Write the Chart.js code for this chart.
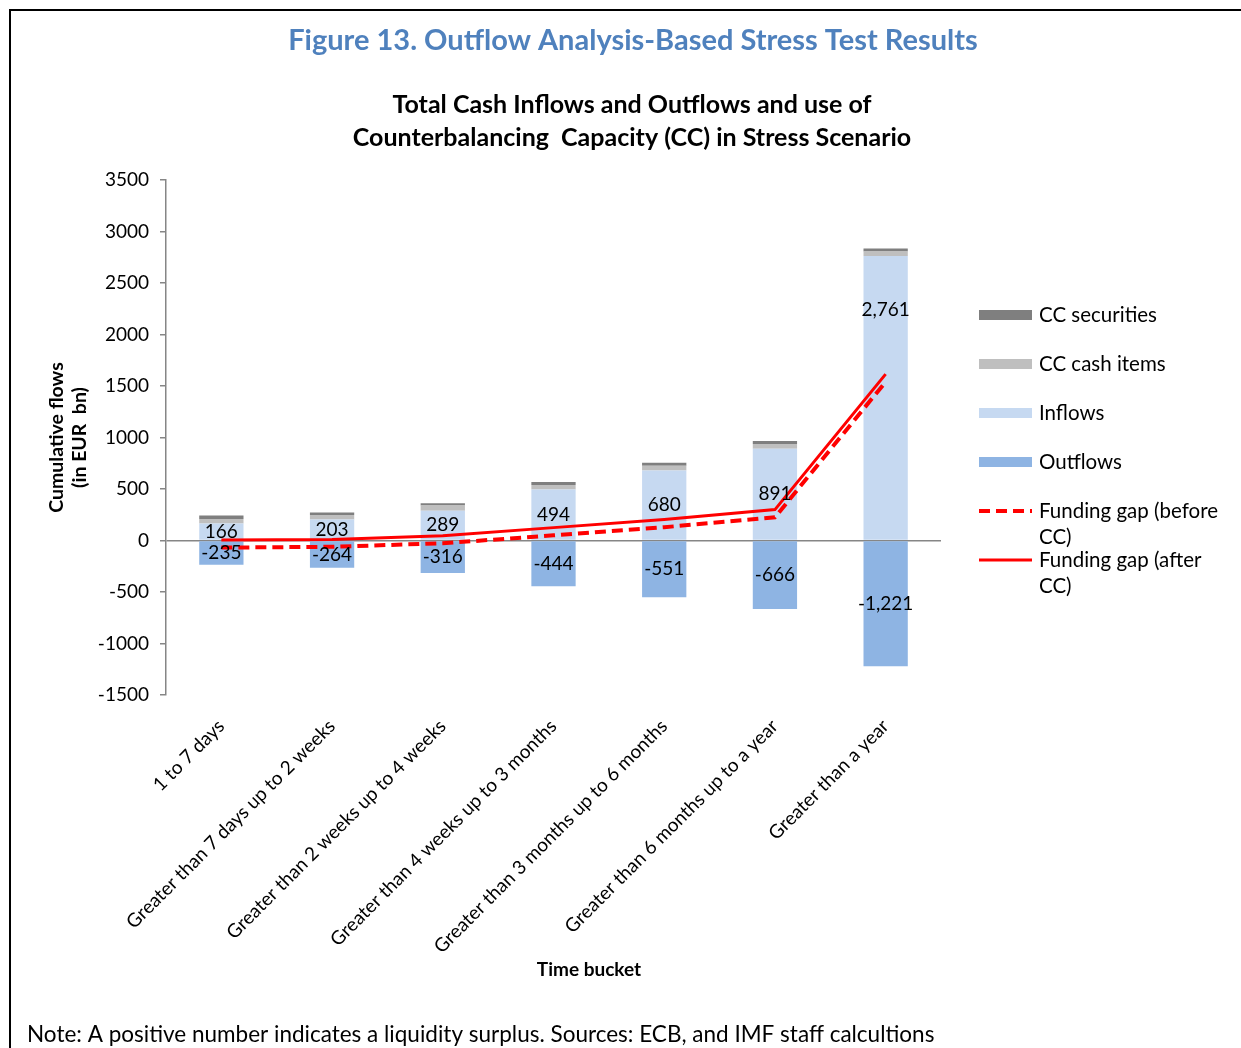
<!DOCTYPE html>
<html>
<head>
<meta charset="utf-8">
<script src="https://cdn.jsdelivr.net/npm/chart.js@4.4.0/dist/chart.umd.min.js"></script>
<style>
  html, body { margin: 0; padding: 0; background: #fff; }
  #wrap { width: 1241px; height: 1048px; position: relative; }
</style>
</head>
<body>
<div id="wrap"><canvas id="chart"></canvas></div>
<script>
const buckets = [
  '1 to 7 days',
  'Greater than 7 days up to 2 weeks',
  'Greater than 2 weeks up to 4 weeks',
  'Greater than 4 weeks up to 3 months',
  'Greater than 3 months up to 6 months',
  'Greater than 6 months up to a year',
  'Greater than a year',
];
const outflows = [-235, -264, -316, -444, -551, -666, -1221];
const inflows = [166, 203, 289, 494, 680, 891, 2761];
const ccCash = [42, 45, 50, 45, 45, 45, 45];
const ccSecurities = [35, 25, 22, 30, 30, 30, 30];
const gapBefore = [-69, -61, -27, 50, 129, 225, 1540];
const gapAfter = [6, 9, 45, 125, 204, 300, 1615];
const yTicks = [-1500, -1000, -500, 0, 500, 1000, 1500, 2000, 2500, 3000, 3500];

const FONT = 'Lato';
const AXIS_GRAY = '#868686';

// frame, figure title, chart title, x title and note
const pageText = {
  id: 'pageText',
  beforeDraw(chart) {
    const ctx = chart.ctx;
    ctx.save();
    ctx.fillStyle = '#fff';
    ctx.fillRect(0, 0, chart.width, chart.height);
    ctx.restore();
  },
  afterDraw(chart) {
    const ctx = chart.ctx;
    ctx.save();
    ctx.strokeStyle = '#000';
    ctx.lineWidth = 2;
    ctx.beginPath();
    ctx.moveTo(10, 1048);
    ctx.lineTo(10, 10);
    ctx.lineTo(1241, 10);
    ctx.stroke();

    ctx.textAlign = 'center';
    ctx.textBaseline = 'middle';
    ctx.fillStyle = '#4F81BD';
    ctx.font = 'bold 29px ' + FONT;
    ctx.fillText('Figure 13. Outflow Analysis-Based Stress Test Results', 633, 41);

    ctx.fillStyle = '#000';
    ctx.font = 'bold 25px ' + FONT;
    ctx.fillText('Total Cash Inflows and Outflows and use of', 632, 105);
    ctx.fillText('Counterbalancing  Capacity (CC) in Stress Scenario', 632, 138);

    ctx.font = 'bold 19px ' + FONT;
    ctx.fillText('Time bucket', 589, 970);

    ctx.textAlign = 'left';
    ctx.font = '22.5px ' + FONT;
    ctx.fillText('Note: A positive number indicates a liquidity surplus. Sources: ECB, and IMF staff calcultions', 27, 1035);
    ctx.restore();
  }
};

// values inside the inflow / outflow bars
const barLabels = {
  id: 'barLabels',
  afterDatasetsDraw(chart) {
    const ctx = chart.ctx;
    ctx.save();
    ctx.font = '19px ' + FONT;
    ctx.fillStyle = '#000';
    ctx.textAlign = 'center';
    ctx.textBaseline = 'middle';
    [0, 1].forEach(di => {
      const meta = chart.getDatasetMeta(di);
      const vals = chart.data.datasets[di].data;
      meta.data.forEach((bar, i) => {
        let y = (bar.y + bar.base) / 2;
        if (di === 1 && i === vals.length - 1) y = bar.y + (bar.base - bar.y) * 0.19;
        ctx.fillText(vals[i].toLocaleString('en-US'), bar.x, y);
      });
    });
    ctx.restore();
  }
};

// legend on the right, Excel style
const sideLegend = {
  id: 'sideLegend',
  afterDraw(chart) {
    const ctx = chart.ctx;
    const ds = chart.data.datasets;
    const items = [
      {d: ds[3], text: ['CC securities'], y: 315},
      {d: ds[2], text: ['CC cash items'], y: 364},
      {d: ds[1], text: ['Inflows'], y: 413},
      {d: ds[0], text: ['Outflows'], y: 462},
      {d: ds[4], text: ['Funding gap (before', 'CC)'], y: 511},
      {d: ds[5], text: ['Funding gap (after', 'CC)'], y: 560},
    ];
    const x0 = 979, w = 53;
    ctx.save();
    ctx.font = '20.5px ' + FONT;
    ctx.textBaseline = 'middle';
    items.forEach(it => {
      if (it.d.type === 'line') {
        ctx.strokeStyle = it.d.borderColor;
        ctx.lineWidth = it.d.borderWidth;
        ctx.setLineDash(it.d.borderDash || []);
        ctx.beginPath();
        ctx.moveTo(x0, it.y);
        ctx.lineTo(x0 + w, it.y);
        ctx.stroke();
        ctx.setLineDash([]);
      } else {
        ctx.fillStyle = it.d.backgroundColor;
        ctx.fillRect(x0, it.y - 5, w, 10);
      }
      ctx.fillStyle = '#000';
      it.text.forEach((t, k) => ctx.fillText(t, x0 + 60, it.y + k * 26));
    });
    ctx.restore();
  }
};

new Chart(document.getElementById('chart'), {
  data: {
    labels: buckets,
    datasets: [
      {type: 'bar', label: 'Outflows', data: outflows, backgroundColor: '#8EB4E3', stack: 'flows', order: 1},
      {type: 'bar', label: 'Inflows', data: inflows, backgroundColor: '#C6D9F1', stack: 'flows', order: 1},
      {type: 'bar', label: 'CC cash items', data: ccCash, backgroundColor: '#BFBFBF', stack: 'flows', order: 1},
      {type: 'bar', label: 'CC securities', data: ccSecurities, backgroundColor: '#7F7F7F', stack: 'flows', order: 1},
      {type: 'line', label: 'Funding gap (before CC)', data: gapBefore, borderColor: '#FF0000', borderWidth: 4,
        borderDash: [11, 6], pointRadius: 0, tension: 0, stack: 'gap1', order: 0},
      {type: 'line', label: 'Funding gap (after CC)', data: gapAfter, borderColor: '#FF0000', borderWidth: 3,
        pointRadius: 0, tension: 0, stack: 'gap2', order: 0},
    ]
  },
  options: {
    responsive: true,
    maintainAspectRatio: false,
    animation: false,
    layout: {padding: {top: 180, left: 45, right: 300, bottom: 60}},
    datasets: {bar: {barPercentage: 0.4, categoryPercentage: 1}},
    plugins: {
      legend: {display: false},
      title: {display: false},
      tooltip: {enabled: false},
    },
    scales: {
      x: {
        stacked: true,
        grid: {display: false},
        border: {display: false},
        ticks: {
          color: '#000', font: {family: FONT, size: 19},
          minRotation: 45, maxRotation: 45, autoSkip: false, padding: 12,
        },
        afterFit: s => { s.height = 1048 - 60 - 695; },
      },
      y: {
        stacked: true,
        min: yTicks[0],
        max: yTicks[yTicks.length - 1],
        z: 1,
        ticks: {stepSize: 500, color: '#000', font: {family: FONT, size: 19}, padding: 11,
          callback: v => String(v)},
        grid: {
          color: c => (c.tick && c.tick.value === 0 ? AXIS_GRAY : 'rgba(0,0,0,0)'),
          tickColor: AXIS_GRAY, tickLength: 6, lineWidth: 1.5,
        },
        border: {color: AXIS_GRAY, width: 1.5},
        title: {display: true, text: ['Cumulative flows', '(in EUR  bn)'], color: '#000',
          font: {family: FONT, size: 19.5, weight: 'bold', lineHeight: 1.2}, padding: {top: 0, bottom: 0}},
        afterFit: s => { s.width = 121; },
      }
    }
  },
  plugins: [pageText, barLabels, sideLegend]
});
</script>
</body>
</html>
